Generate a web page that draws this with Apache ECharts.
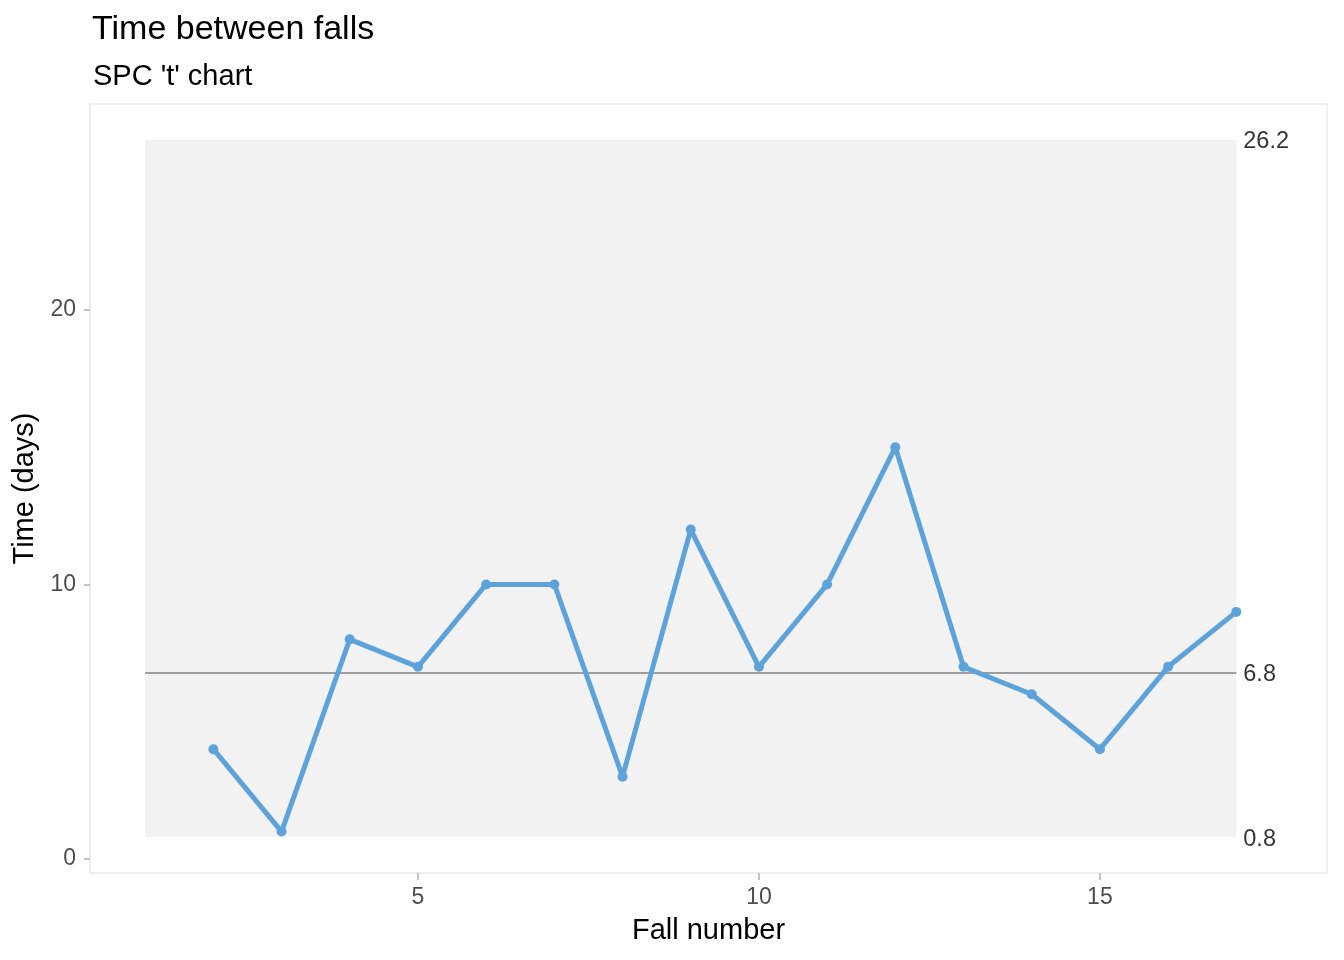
<!DOCTYPE html>
<html>
<head>
<meta charset="utf-8">
<script src="https://cdn.jsdelivr.net/npm/echarts@6/dist/echarts.min.js"></script>
<style>html,body{margin:0;padding:0;background:#fff}#c{width:1344px;height:960px}</style>
</head>
<body>
<div id="c"></div>
<script>
const fallNumbers = [2,3,4,5,6,7,8,9,10,11,12,13,14,15,16,17];
const timeDays = [4,1,8,7,10,10,3,12,7,10,15,7,6,4,7,9];
const centreLine = 6.8;
const lowerLimit = 0.8;
const upperLimit = 26.2;
const limitStart = 1;
const limitEnd = 17;
const xTicks = [5,10,15];
const yTicks = [0,10,20];

const X_MIN = 0.191, X_MAX = 18.33, Y_MIN = -0.51, Y_MAX = 27.5;
const FONT = 'Liberation Sans, Arial, sans-serif';
const chart = echarts.init(document.getElementById('c'));
chart.setOption({
  animation: false,
  title: [
    {text: 'Time between falls', left: 87, top: 8, textStyle: {fontFamily: FONT, fontSize: 34, fontWeight: 'normal', color: '#000'}},
    {text: "SPC 't' chart", left: 88, top: 57, textStyle: {fontFamily: FONT, fontSize: 29, fontWeight: 'normal', color: '#000'}}
  ],
  grid: {left: 90, right: 17, top: 104, bottom: 87, show: true, borderColor: '#ebebeb', borderWidth: 1.5, backgroundColor: '#fff', containLabel: false, outerBoundsMode: 'none'},
  xAxis: {
    type: 'value', min: X_MIN, max: X_MAX, position: 'bottom',
    name: 'Fall number', nameLocation: 'middle', nameGap: 43,
    nameTextStyle: {fontFamily: FONT, fontSize: 29, color: '#000'},
    axisLine: {show: true, onZero: false, lineStyle: {color: '#ebebeb', width: 1.5}},
    axisTick: {show: true, inside: false, length: 7, lineStyle: {color: '#c4c4c4', width: 2}, customValues: xTicks},
    axisLabel: {fontFamily: FONT, fontSize: 23, color: '#4d4d4d', margin: 13, customValues: xTicks},
    splitLine: {show: false}
  },
  yAxis: {
    type: 'value', min: Y_MIN, max: Y_MAX,
    name: 'Time (days)', nameLocation: 'middle', nameGap: 48, nameRotate: 90,
    nameTextStyle: {fontFamily: FONT, fontSize: 29, color: '#000'},
    axisLine: {show: true, onZero: false, lineStyle: {color: '#ebebeb', width: 1.5}},
    axisTick: {show: true, inside: false, length: 6, lineStyle: {color: '#c4c4c4', width: 2}, customValues: yTicks},
    axisLabel: {fontFamily: FONT, fontSize: 23, color: '#4d4d4d', margin: 14, customValues: yTicks},
    splitLine: {show: false}
  },
  series: [
    {
      type: 'line',
      data: fallNumbers.map((x, i) => [x, timeDays[i]]),
      symbol: 'circle', symbolSize: 10,
      lineStyle: {color: '#5da3da', width: 5},
      itemStyle: {color: '#5da3da'},
      z: 5,
      markArea: {
        silent: true,
        itemStyle: {color: '#f2f2f2'},
        data: [[{coord: [limitStart, lowerLimit]}, {coord: [limitEnd, upperLimit]}]],
        z: 1
      },
      markLine: {
        silent: true, symbol: 'none',
        lineStyle: {color: '#808080', width: 1.5, type: 'solid'},
        label: {show: false},
        data: [[{coord: [limitStart, centreLine]}, {coord: [limitEnd, centreLine]}]]
      }
    },
    {
      type: 'scatter',
      symbolSize: 0,
      data: [[limitEnd, upperLimit], [limitEnd, centreLine], [limitEnd, lowerLimit]],
      label: {
        show: true, position: 'right', distance: 7, offset: [0, 2],
        formatter: p => p.value[1].toFixed(1),
        fontFamily: FONT, fontSize: 23.5, color: '#000'
      },
      z: 6
    },
    {
      type: 'custom',
      clip: false,
      silent: true,
      data: xTicks.map(v => [v, Y_MIN]),
      renderItem: function (params, api) {
        const p = api.coord([api.value(0), Y_MIN]);
        return {
          type: 'line',
          shape: {x1: p[0], y1: p[1] + 1, x2: p[0], y2: p[1] + 7},
          style: {stroke: '#c4c4c4', lineWidth: 2}
        };
      },
      z: 7
    }
  ]
});
</script>
</body>
</html>
